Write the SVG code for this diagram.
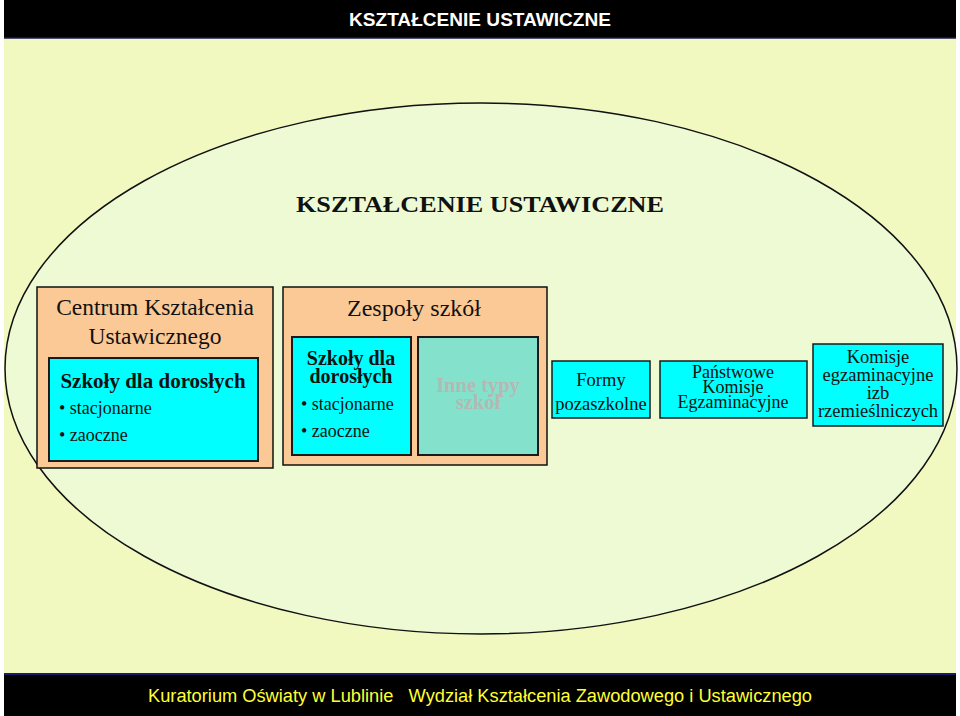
<svg xmlns="http://www.w3.org/2000/svg" width="960" height="716" viewBox="0 0 960 716">
<style>
.serif{font-family:"Liberation Serif","Times New Roman",serif;fill:#111}
.sans{font-family:"Liberation Sans",Arial,sans-serif}
.orange{fill:#FBC996;stroke:#111;stroke-width:1.5}
.cyan{fill:#00FFFF;stroke:#1a1a1a;stroke-width:2}
.teal{fill:#84E2CC;stroke:#1a1a1a;stroke-width:2}
.c{text-anchor:middle}
</style>
<rect x="0" y="0" width="960" height="716" fill="#ffffff"/>
<rect x="4" y="38" width="952" height="636" fill="#F1F9C1"/>
<g id="header">
<rect x="4" y="0" width="952" height="38" fill="#000"/>
<line x1="4" y1="38" x2="956" y2="38" stroke="#1a1a5a" stroke-width="1.5"/>
<text class="sans c" x="480" y="26" font-size="18" font-weight="bold" fill="#fff" textLength="262" lengthAdjust="spacingAndGlyphs">KSZTAŁCENIE USTAWICZNE</text>
</g>
<g id="footer">
<rect x="4" y="674" width="952" height="42" fill="#000"/>
<line x1="4" y1="674" x2="956" y2="674" stroke="#1a1a6a" stroke-width="2"/>
<text class="sans" x="148" y="702" font-size="18" fill="#FFFF33" textLength="664" lengthAdjust="spacingAndGlyphs" xml:space="preserve">Kuratorium Oświaty w Lublinie   Wydział Kształcenia Zawodowego i Ustawicznego</text>
</g>
<g id="ellipse">
<ellipse cx="481" cy="368.5" rx="476" ry="265.5" fill="#EEFAD4" stroke="#111" stroke-width="1.5"/>
<text class="serif c" x="480" y="212" font-size="23" font-weight="bold" textLength="368" lengthAdjust="spacingAndGlyphs">KSZTAŁCENIE USTAWICZNE</text>
</g>
<g id="centrum">
<rect class="orange" x="37" y="287" width="236" height="181"/>
<text class="serif c" x="155" y="315" font-size="23.5">Centrum Kształcenia</text>
<text class="serif c" x="155" y="344" font-size="23.5">Ustawicznego</text>
</g>
<g id="centrum-szkoly">
<rect class="cyan" x="49" y="358" width="209" height="103"/>
<text class="serif c" x="153" y="388" font-size="21" font-weight="bold">Szkoły dla dorosłych</text>
<text class="serif" x="59" y="414" font-size="18">• stacjonarne</text>
<text class="serif" x="59" y="441" font-size="18">• zaoczne</text>
</g>
<g id="zespoly">
<rect class="orange" x="283" y="287" width="264" height="178"/>
<text class="serif c" x="414" y="316" font-size="24">Zespoły szkół</text>
</g>
<g id="zespoly-szkoly">
<rect class="cyan" x="292" y="337" width="119" height="118"/>
<text class="serif c" x="351" y="365" font-size="20" font-weight="bold">Szkoły dla</text>
<text class="serif c" x="351" y="383" font-size="20" font-weight="bold">dorosłych</text>
<text class="serif" x="301" y="410" font-size="18">• stacjonarne</text>
<text class="serif" x="301" y="437" font-size="18">• zaoczne</text>
</g>
<g id="inne">
<rect class="teal" x="418" y="337" width="120" height="118"/>
<text class="serif c" x="478" y="392" font-size="20.5" font-weight="bold" style="fill:#B4B8B4">Inne typy</text>
<text class="serif c" x="478" y="409" font-size="20.5" font-weight="bold" style="fill:#B4B8B4">szkół</text>
</g>
<g id="formy">
<rect class="cyan" x="552" y="361" width="98" height="57" style="stroke-width:1.5"/>
<text class="serif c" x="601" y="386" font-size="18.5">Formy</text>
<text class="serif c" x="601" y="410" font-size="18.5">pozaszkolne</text>
</g>
<g id="pke">
<rect class="cyan" x="660" y="361" width="147" height="57" style="stroke-width:1.5"/>
<text class="serif c" x="733" y="378" font-size="18">Państwowe</text>
<text class="serif c" x="733" y="393" font-size="18">Komisje</text>
<text class="serif c" x="733" y="408" font-size="18">Egzaminacyjne</text>
</g>
<g id="komisje-izb">
<rect class="cyan" x="813" y="344" width="130" height="82" style="stroke-width:1.5"/>
<text class="serif c" x="878" y="363" font-size="18.5">Komisje</text>
<text class="serif c" x="878" y="381" font-size="18.5">egzaminacyjne</text>
<text class="serif c" x="878" y="399" font-size="18.5">izb</text>
<text class="serif c" x="878" y="417" font-size="18.5">rzemieślniczych</text>
</g>
<g id="connectors"></g>
</svg>
